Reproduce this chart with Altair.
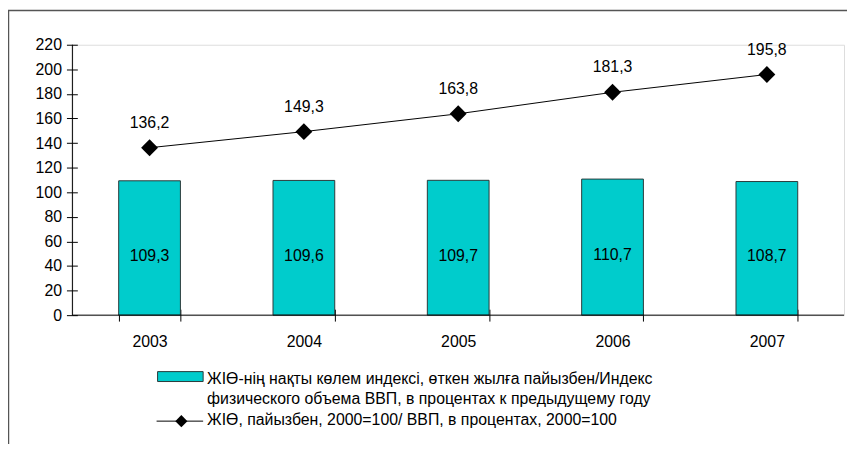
import altair as alt
import pandas as pd

# ---- data ----
years = ["2003", "2004", "2005", "2006", "2007"]
real_index = [109.3, 109.6, 109.7, 110.7, 108.7]
real_labels = ["109,3", "109,6", "109,7", "110,7", "108,7"]
cumulative = [136.2, 149.3, 163.8, 181.3, 195.8]
cum_labels = ["136,2", "149,3", "163,8", "181,3", "195,8"]
y_ticks = [0, 20, 40, 60, 80, 100, 120, 140, 160, 180, 200, 220]
legend_bar_lines = [
    "ЖІӨ-нің нақты көлем индексі, өткен жылға пайызбен/Индекс",
    "физического объема ВВП, в процентах к предыдущему году",
]
legend_line_text = "ЖІӨ, пайызбен, 2000=100/ ВВП, в процентах, 2000=100"

df = pd.DataFrame({
    "year": years,
    "real": real_index,
    "real_label": real_labels,
    "cum": cumulative,
    "cum_label": cum_labels,
})
df["mid"] = df["real"] / 2

W, H = 779, 273
FONT = "Liberation Sans"
FS = 16
BAR = "#00CCCC"
one = pd.DataFrame({"a": [0]})

x_enc = alt.X(
    "year:N",
    sort=years,
    scale=alt.Scale(paddingInner=0.6, paddingOuter=0.3),
    axis=alt.Axis(
        title=None, labelAngle=0, domain=False, offset=-6, tickSize=12,
        tickBand="extent", tickColor="#000000", labelFontSize=FS,
        labelFont=FONT, labelColor="#000000", labelPadding=13, grid=False,
    ),
)
y_scale = alt.Scale(domain=[0, 220], nice=False)
y_axis = alt.Axis(
    title=None, values=y_ticks, grid=False, domain=False, offset=-5,
    tickSize=11, tickColor="#000000", labelFontSize=FS, labelFont=FONT,
    labelColor="#000000", labelPadding=5,
)

base = alt.Chart(df)

bars = base.mark_bar(fill=BAR, stroke="#2a3a3a", strokeWidth=1).encode(
    x=x_enc, y=alt.Y("real:Q", scale=y_scale, axis=y_axis)
)
bar_text = base.mark_text(font=FONT, fontSize=FS, color="#000000", dy=8).encode(
    x=x_enc, y=alt.Y("mid:Q", scale=y_scale, axis=y_axis), text="real_label:N"
)
line = base.mark_line(color="#000000", strokeWidth=1).encode(
    x=x_enc, y=alt.Y("cum:Q", scale=y_scale, axis=y_axis)
)
pts = base.mark_point(shape="diamond", filled=True, size=290, color="#000000", opacity=1).encode(
    x=x_enc, y=alt.Y("cum:Q", scale=y_scale, axis=y_axis)
)
line_text = base.mark_text(font=FONT, fontSize=FS, color="#000000", dy=-25).encode(
    x=x_enc, y=alt.Y("cum:Q", scale=y_scale, axis=y_axis), text="cum_label:N"
)

# axis lines
y_line = alt.Chart(one).mark_rule(color="#000000", strokeWidth=1).encode(
    x=alt.value(0), y=alt.value(0), y2=alt.value(H)
)
x_line = alt.Chart(one).mark_rule(color="#000000", strokeWidth=1).encode(
    x=alt.value(0), x2=alt.value(W), y=alt.value(H)
)

# outer frame (top and left edges)
frame_l = alt.Chart(one).mark_rule(color="#555555", strokeWidth=1.5).encode(
    x=alt.value(-64.5), y=alt.value(-35), y2=alt.value(410)
)
frame_t = alt.Chart(one).mark_rule(color="#555555", strokeWidth=1.5).encode(
    x=alt.value(-65), x2=alt.value(W + 5), y=alt.value(-34.5)
)

# legend
leg_rect = alt.Chart(one).mark_rect(fill=BAR, stroke="#2a3a3a", strokeWidth=1).encode(
    x=alt.value(86), x2=alt.value(132), y=alt.value(330), y2=alt.value(340)
)
leg_t1 = alt.Chart(one).mark_text(font=FONT, fontSize=FS, align="left", baseline="middle", color="#000000").encode(
    x=alt.value(136), y=alt.value(338), text=alt.value(legend_bar_lines[0])
)
leg_t2 = alt.Chart(one).mark_text(font=FONT, fontSize=FS, align="left", baseline="middle", color="#000000").encode(
    x=alt.value(136), y=alt.value(357.5), text=alt.value(legend_bar_lines[1])
)
leg_line = alt.Chart(one).mark_rule(color="#000000", strokeWidth=1).encode(
    x=alt.value(85), x2=alt.value(132), y=alt.value(380)
)
leg_pt = alt.Chart(one).mark_point(shape="diamond", filled=True, size=150, color="#000000", opacity=1).encode(
    x=alt.value(110), y=alt.value(380)
)
leg_t3 = alt.Chart(one).mark_text(font=FONT, fontSize=FS, align="left", baseline="middle", color="#000000").encode(
    x=alt.value(136), y=alt.value(379), text=alt.value(legend_line_text)
)

chart = alt.layer(
    bars, bar_text, line, pts, line_text, y_line, x_line,
    frame_l, frame_t, leg_rect, leg_t1, leg_t2, leg_line, leg_pt, leg_t3,
).properties(
    width=W, height=H,
    padding={"left": 65, "top": 35, "right": 3, "bottom": 128},
    autosize=alt.AutoSizeParams(type="none"),
).configure_view(stroke=None).configure(background="#ffffff")

chart.save("out.html", embed_options={"renderer": "svg", "actions": False})
